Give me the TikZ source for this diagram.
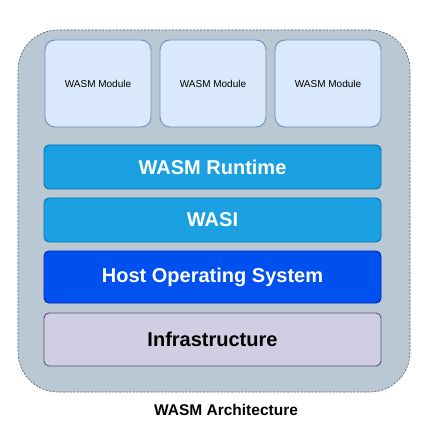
\documentclass[tikz,border=0pt]{standalone}
\usepackage{fontspec}
\setmainfont{Liberation Sans}
\definecolor{outerfill}{HTML}{BAC8D3}
\definecolor{outerdraw}{HTML}{4A5A66}
\definecolor{modfill}{HTML}{DAE8FC}
\definecolor{moddraw}{HTML}{6C8EBF}
\definecolor{rtfill}{HTML}{1BA1E2}
\definecolor{rtdraw}{HTML}{006EAF}
\definecolor{osfill}{HTML}{0050EF}
\definecolor{osdraw}{HTML}{001DBC}
\definecolor{infill}{HTML}{D0CEE2}
\definecolor{indraw}{HTML}{56517E}
\begin{document}
\begin{tikzpicture}[x=1pt,y=1pt,
  modbox/.style={draw=moddraw,fill=modfill,rounded corners=10pt,line width=0.9pt,
    minimum width=106pt,minimum height=87pt,inner sep=0pt,font=\fontsize{10}{12}\selectfont},
  barbox/.style={rounded corners=5pt,line width=0.9pt,minimum width=337pt,inner sep=0pt,
    font=\fontsize{20}{24}\selectfont\bfseries}]
\useasboundingbox (0,0) rectangle (430,-443);
\fill[white] (0,0) rectangle (430,-443);
\node[fill=outerfill,draw=outerdraw,dash pattern=on 2pt off 1.5pt,line width=0.6pt,
  rounded corners=40pt,minimum width=392pt,minimum height=362pt,inner sep=0pt] (outer) at (214,-211) {};
% modules
\node[modbox] (m1) at (98,-83.5) {WASM Module};
\node[modbox] (m2) at (213,-83.5) {WASM Module};
\node[modbox] (m3) at (328,-83.5) {WASM Module};
% bars
\node[barbox,fill=rtfill,draw=rtdraw,text=white,minimum height=44pt] (rt) at (212.5,-167) {WASM Runtime};
\node[barbox,fill=rtfill,draw=rtdraw,text=white,minimum height=44pt] (wasi) at (212.5,-220) {WASI};
\node[barbox,fill=osfill,draw=osdraw,text=white,minimum height=52pt] (os) at (212.5,-277) {Host Operating System};
\node[barbox,fill=infill,draw=indraw,text=black,minimum height=53pt] (inf) at (212.5,-339.5) {Infrastructure};
\node[font=\fontsize{15.5}{18}\selectfont\bfseries] (title) at (226,-410) {WASM Architecture};
\end{tikzpicture}
\end{document}
